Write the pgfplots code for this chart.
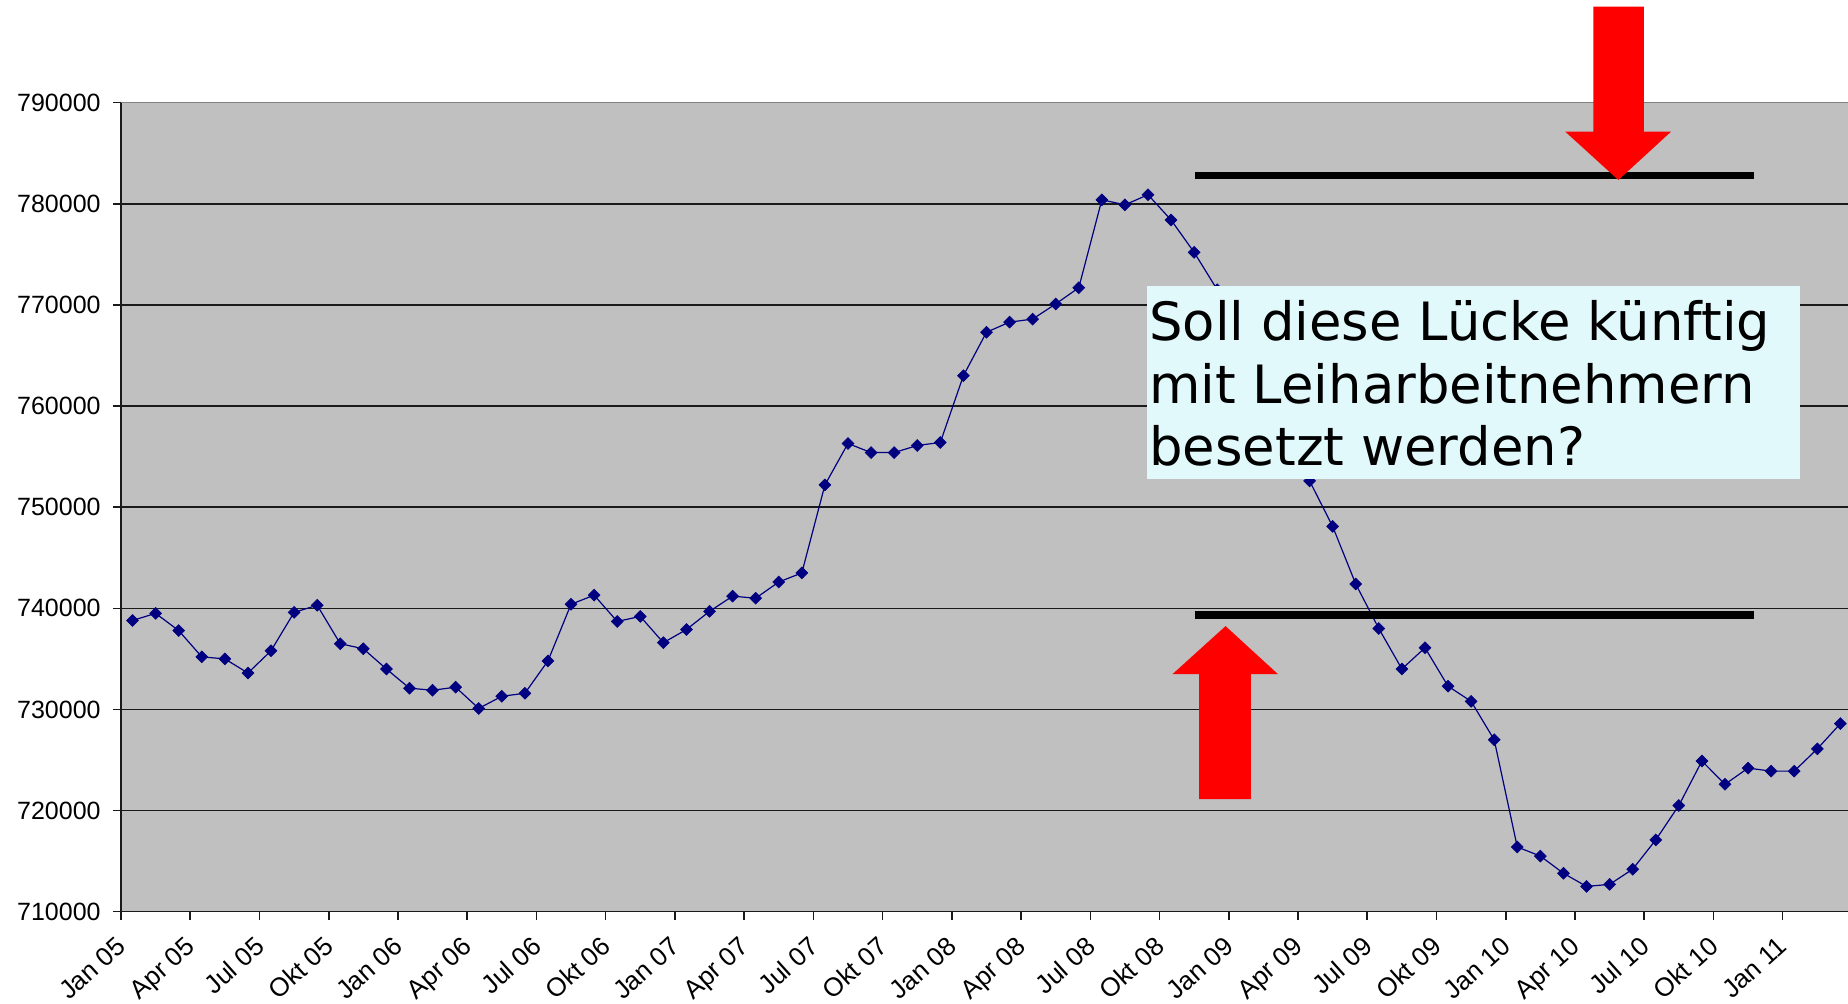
\documentclass[border=0pt]{standalone}
\usepackage{fontspec}
\setmainfont{Liberation Sans}
\newfontfamily\dejavu{DejaVu Sans}
\usepackage{pgfplots}
\usepackage{pgfplotstable}
\pgfplotsset{compat=1.18}
\definecolor{bggray}{HTML}{C0C0C0}
\definecolor{navyc}{HTML}{000080}
\definecolor{boxc}{HTML}{E2F9FC}
\definecolor{gridc}{HTML}{1A1A1A}

\pgfplotstableread{
m v
1 738800
2 739500
3 737800
4 735200
5 735000
6 733600
7 735800
8 739600
9 740300
10 736500
11 736000
12 734000
13 732100
14 731900
15 732200
16 730100
17 731300
18 731600
19 734800
20 740400
21 741300
22 738700
23 739200
24 736600
25 737900
26 739700
27 741200
28 741000
29 742600
30 743500
31 752200
32 756300
33 755400
34 755400
35 756100
36 756400
37 763000
38 767300
39 768300
40 768600
41 770100
42 771700
43 780400
44 779900
45 780900
46 778400
47 775200
48 771500
49 767000
50 762000
51 757500
52 752600
53 748100
54 742400
55 738000
56 734000
57 736100
58 732300
59 730800
60 727000
61 716400
62 715500
63 713800
64 712500
65 712700
66 714200
67 717100
68 720500
69 724900
70 722600
71 724200
72 723900
73 723900
74 726100
75 728600
}\datatable

\begin{document}
\begin{tikzpicture}
\begin{axis}[
  set layers,
  width=863.5pt, height=404.5pt, scale only axis,
  xmin=0.5, xmax=75.33, ymin=710000, ymax=790000,
  axis x line*=bottom, axis y line*=left,
  axis line style={line width=0.8pt, color=gridc},
  axis background/.style={fill=bggray},
  clip=false,
  scaled y ticks=false,
  xtick={0.5,3.5,6.5,9.5,12.5,15.5,18.5,21.5,24.5,27.5,30.5,33.5,36.5,39.5,42.5,45.5,48.5,51.5,54.5,57.5,60.5,63.5,66.5,69.5,72.5},
  xticklabels={Jan 05,Apr 05,Jul 05,Okt 05,Jan 06,Apr 06,Jul 06,Okt 06,Jan 07,Apr 07,Jul 07,Okt 07,Jan 08,Apr 08,Jul 08,Okt 08,Jan 09,Apr 09,Jul 09,Okt 09,Jan 10,Apr 10,Jul 10,Okt 10,Jan 11},
  ytick={710000,720000,730000,740000,750000,760000,770000,780000,790000},
  yticklabels={710000,720000,730000,740000,750000,760000,770000,780000,790000},
  tick align=outside,
  major tick length=4pt,
  tick style={line width=0.8pt, color=gridc},
  ymajorgrids,
  grid style={line width=0.7pt, color=gridc},
  yticklabel style={font=\fontsize{12.5}{15}\selectfont, anchor=east, inner sep=0pt, xshift=-6pt},
  xticklabel style={font=\fontsize{13}{15}\selectfont, xshift=-3pt, yshift=-7.5pt, rotate=42, anchor=north east, inner sep=0pt},
]
\addplot[navyc, line width=0.6pt, mark=square*, mark size=2.1pt,
  mark options={rotate=45, fill=navyc, draw=navyc, line width=0.3pt}]
  table[x=m, y=v]{\datatable};
\coordinate (SW) at (rel axis cs:0,0);
\coordinate (NE) at (rel axis cs:1,1);
\begin{pgfonlayer}{axis foreground}
\draw[gray, line width=0.6pt] (rel axis cs:0,1) -- (rel axis cs:1,1);
% annotation box
\fill[boxc] (axis cs:44.95,752830) rectangle (axis cs:73.25,771870);
\node[anchor=base west, inner sep=0pt, font=\dejavu\fontsize{26.4}{31}\selectfont] at (axis cs:45.04,766529) {Soll diese Lücke künftig};
\node[anchor=base west, inner sep=0pt, font=\dejavu\fontsize{26.4}{31}\selectfont] at (axis cs:45.04,760267) {mit Leiharbeitnehmern};
\node[anchor=base west, inner sep=0pt, font=\dejavu\fontsize{26.4}{31}\selectfont] at (axis cs:45.04,754165) {besetzt werden?};
% black lines
\draw[black, line width=3.8pt] (axis cs:47.02,782790) -- (axis cs:71.25,782790);
\draw[black, line width=3.8pt] (axis cs:47.02,739350) -- (axis cs:71.25,739350);
% red arrows
\fill[red] (axis cs:64.30,799495) -- (axis cs:66.49,799495) -- (axis cs:66.49,787132) -- (axis cs:67.66,787132) -- (axis cs:65.38,782354) -- (axis cs:63.08,787132) -- (axis cs:64.30,787132) -- cycle;
\fill[red] (axis cs:47.21,721130) -- (axis cs:49.46,721130) -- (axis cs:49.46,733490) -- (axis cs:50.63,733490) -- (axis cs:48.36,738240) -- (axis cs:46.06,733490) -- (axis cs:47.21,733490) -- cycle;
\end{pgfonlayer}
\end{axis}
\pgfresetboundingbox
\path[use as bounding box] ([xshift=-60.5pt,yshift=-46.15pt]SW) rectangle ([yshift=51.35pt]NE);
\end{tikzpicture}
\end{document}
